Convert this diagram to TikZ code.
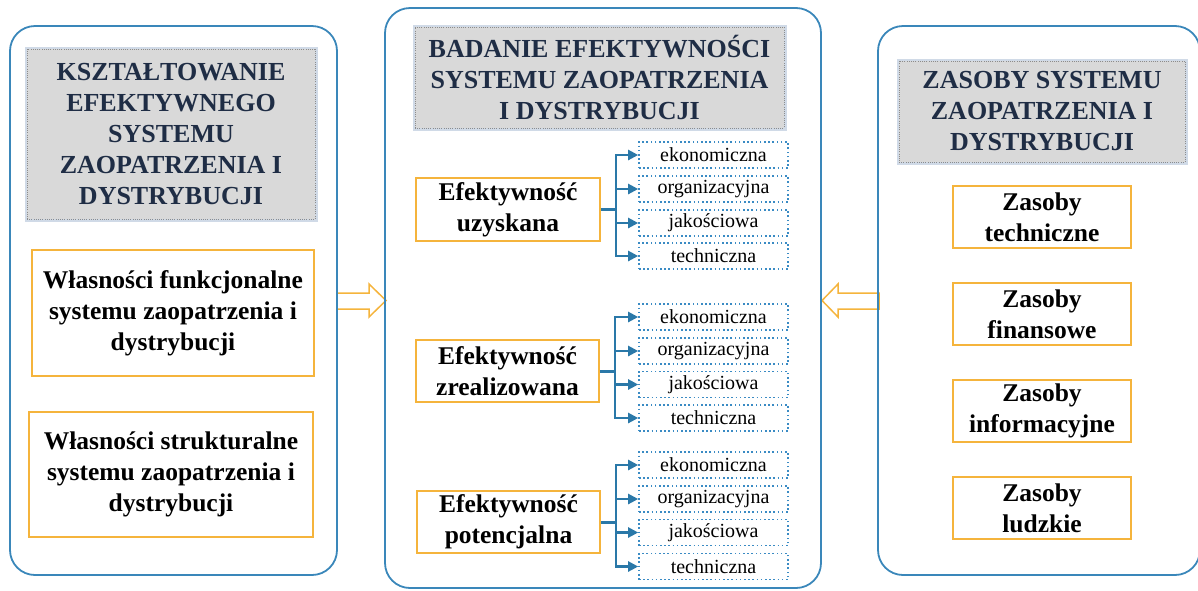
\documentclass[tikz,border=0pt]{standalone}
\usepackage{fontspec}
\setmainfont{Liberation Serif}
\usetikzlibrary{arrows.meta,calc}
\definecolor{panelblue}{HTML}{3A87BA}
\definecolor{oborder}{HTML}{F5B43C}
\definecolor{dotblue}{HTML}{3A8BC4}
\definecolor{connblue}{HTML}{2A78A8}
\definecolor{titlefill}{HTML}{D9D9D9}
\definecolor{titleborder}{HTML}{8C8C8C}
\definecolor{titletext}{HTML}{1F2D45}
\definecolor{glow}{HTML}{A9BCD3}
\begin{document}
\begin{tikzpicture}[x=1pt,y=-1pt,
  panel/.style={draw=panelblue, line width=1.8pt, rounded corners=25pt, inner sep=0pt, outer sep=0pt},
  titlebox/.style={draw=titleborder, fill=titlefill, line width=0.8pt, dash pattern=on 1pt off 1.2pt,
    preaction={draw=glow, line width=5pt, solid, opacity=0.55},
    inner sep=0pt, align=center, text=titletext, font=\bfseries\fontsize{26}{31}\selectfont},
  obox/.style={draw=oborder, line width=1.5pt, fill=white, inner sep=0pt, align=center,
    font=\bfseries\fontsize{25.5}{31}\selectfont},
  sbox/.style={draw=dotblue, line width=1.6pt, dash pattern=on 1.6pt off 2.6pt, inner sep=0pt,
    minimum width=149pt, minimum height=26pt, font=\fontsize{20}{22}\selectfont},
  conn/.style={draw=connblue, line width=2.2pt, -{Triangle[length=10pt,width=10pt]}},
  stub/.style={draw=connblue, line width=3pt},
  harrow/.style={draw=oborder, fill=white, line width=1.5pt, line join=miter}
]
\useasboundingbox (0,0) rectangle (1198,590);

% hollow arrows
\draw[harrow] (337,293) -- (369,293) -- (369,284) -- (386,300.5) -- (369,317) -- (369,309) -- (337,309) -- cycle;
\draw[harrow] (879,293) -- (838,293) -- (838,284) -- (822,300.5) -- (838,317) -- (838,309) -- (879,309) -- cycle;

% panels
\node[panel, minimum width=327pt, minimum height=549pt] (PL) at (173.5,300.5) {};
\node[panel, minimum width=436pt, minimum height=580pt] (PM) at (603,298) {};
\node[panel, minimum width=322pt, minimum height=549pt] (PR) at (1039,300.5) {};

% left panel
\node[titlebox, minimum width=288pt, minimum height=170pt] (TL) at (171,134)
  {KSZTAŁTOWANIE\\EFEKTYWNEGO\\SYSTEMU\\ZAOPATRZENIA I\\DYSTRYBUCJI};
\node[obox, minimum width=282pt, minimum height=126pt] (L1) at (173,313)
  {Własności funkcjonalne\\systemu zaopatrzenia i\\dystrybucji};
\node[obox, minimum width=284pt, minimum height=125pt] (L2) at (171,474.5)
  {Własności strukturalne\\systemu zaopatrzenia i\\dystrybucji};

% middle panel
\node[titlebox, minimum width=369pt, minimum height=101pt] (TM) at (599.5,77.5)
  {BADANIE EFEKTYWNOŚCI\\SYSTEMU ZAOPATRZENIA\\I DYSTRYBUCJI};
\node[obox, minimum width=184pt, minimum height=63pt] (E1) at (508,209.5) {Efektywność\\uzyskana};
\node[obox, minimum width=183pt, minimum height=62pt] (E2) at (507.5,371) {Efektywność\\zrealizowana};
\node[obox, minimum width=183pt, minimum height=62pt] (E3) at (508.5,522) {Efektywność\\potencjalna};

\node[sbox] (s11) at (713.5,155) {ekonomiczna};
\node[sbox] (s12) at (713.5,189) {organizacyjna};
\node[sbox] (s13) at (713.5,223) {jakościowa};
\node[sbox] (s14) at (713.5,256) {techniczna};
\node[sbox] (s21) at (713.5,317) {ekonomiczna};
\node[sbox] (s22) at (713.5,351) {organizacyjna};
\node[sbox] (s23) at (713.5,384.5) {jakościowa};
\node[sbox] (s24) at (713.5,418) {techniczna};
\node[sbox] (s31) at (713.5,465) {ekonomiczna};
\node[sbox] (s32) at (713.5,499) {organizacyjna};
\node[sbox] (s33) at (713.5,532.5) {jakościowa};
\node[sbox] (s34) at (713.5,566.5) {techniczna};

\foreach \g in {1,2,3}{
  \draw[stub] (E\g.east) -- ++(15,0);
  \foreach \k in {1,2,3,4}{
    \draw[conn] (E\g.east) ++(15,0) |- (s\g\k.west);
  }
}

% right panel
\node[titlebox, minimum width=286pt, minimum height=101pt] (TR) at (1042,111.5)
  {ZASOBY SYSTEMU\\ZAOPATRZENIA I\\DYSTRYBUCJI};
\node[obox, minimum width=178pt, minimum height=62pt] (R1) at (1042,217) {Zasoby\\techniczne};
\node[obox, minimum width=178pt, minimum height=62pt] (R2) at (1042,314) {Zasoby\\finansowe};
\node[obox, minimum width=178pt, minimum height=62pt] (R3) at (1042,411) {Zasoby\\informacyjne};
\node[obox, minimum width=178pt, minimum height=62pt] (R4) at (1042,508) {Zasoby\\ludzkie};
\end{tikzpicture}
\end{document}
